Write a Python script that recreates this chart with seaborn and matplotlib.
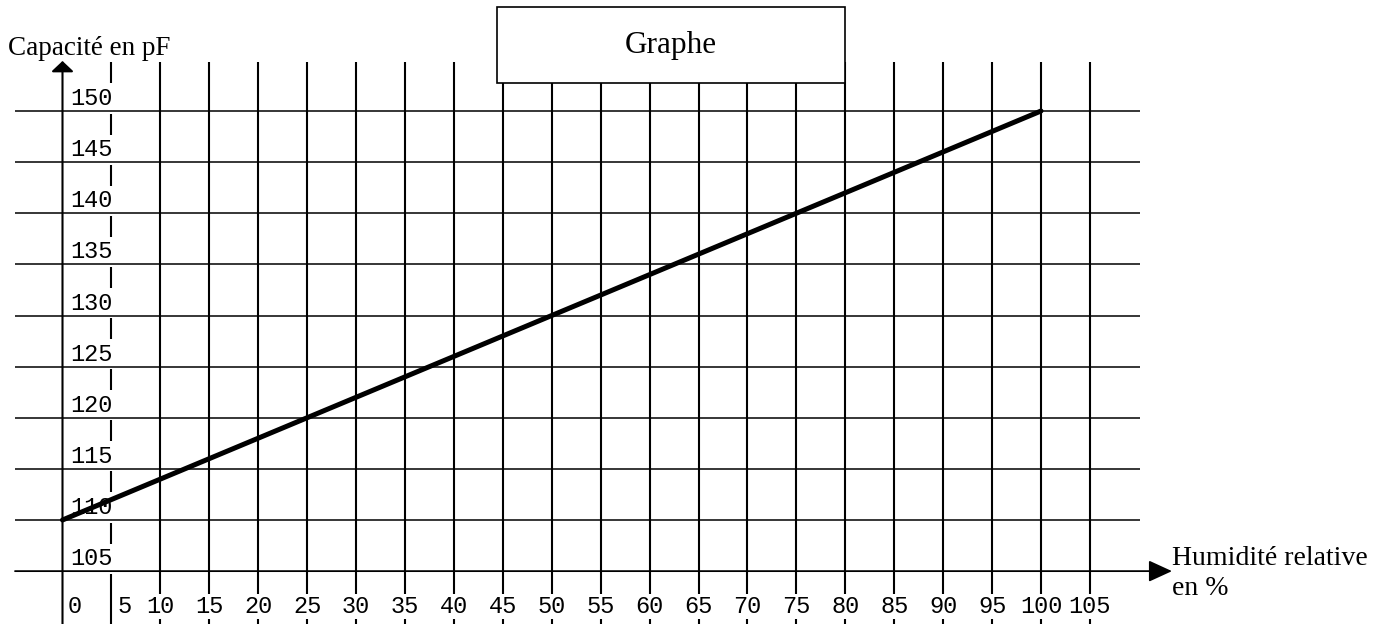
import matplotlib
matplotlib.use("Agg")
import matplotlib.pyplot as plt
import seaborn as sns
import pandas as pd
import numpy as np
from matplotlib.patches import Rectangle

# ---- data ----
humidite = [0, 25, 50, 75, 100]
capacite = [110, 120, 130, 140, 150]
x_ticks = list(range(0, 110, 5))          # 0 .. 105
y_ticks = list(range(105, 155, 5))        # 105 .. 150
title = "Graphe"
ylabel = "Capacité en pF"
xlabel_lines = ["Humidité relative", "en %"]

sns.set_theme(style="white")
plt.rcParams['font.family'] = ['DejaVu Sans']
plt.rcParams['text.color'] = 'black'

W, H = 1376, 624
fig = plt.figure(figsize=(W / 100, H / 100), dpi=100)
ax = fig.add_axes([0, 0, 1, 1])
ax.set_axis_off()

# pixel <-> data mapping of the reference
x0px, xs = 62.5, 9.785
y0px, ys = 520.0, 10.225
def px2x(p): return (p - x0px) / xs
def px2y(p): return 110 + (y0px - p) / ys

ax.set_xlim(px2x(0), px2x(W))
ax.set_ylim(px2y(H), px2y(0))

y_top = px2y(62)
y_bot = px2y(H)
x_left = px2x(15)
x_right = px2x(1140)

# vertical grid lines
ax.vlines([v for v in x_ticks if v != 0], y_bot, y_top, colors="black", lw=1.5, zorder=1)
# horizontal grid lines
ax.hlines([v for v in y_ticks if v != 105], x_left, x_right, colors="black", lw=1.1, zorder=3)

# axes with arrows
ax.annotate("", xy=(px2x(1172), 105), xytext=(x_left, 105),
            arrowprops=dict(arrowstyle="-|>,head_length=0.72,head_width=0.33",
                            mutation_scale=20, lw=1.3, color="black",
                            shrinkA=0, shrinkB=0), zorder=3)
ax.annotate("", xy=(0, px2y(61)), xytext=(0, y_bot),
            arrowprops=dict(arrowstyle="-|>,head_length=0.32,head_width=0.34",
                            mutation_scale=20, lw=1.5, color="black",
                            shrinkA=0, shrinkB=0), zorder=3)

# curve
df = pd.DataFrame({"h": humidite, "c": capacite})
sns.lineplot(data=df, x="h", y="c", ax=ax, color="black", lw=3.6, zorder=5)
ax.set_xlabel("")
ax.set_ylabel("")

mono = "Liberation Mono"
serif = "Liberation Serif"
bb = dict(boxstyle="square,pad=0.15", fc="white", ec="none")

# y labels (above their line, right of y axis)
for v in y_ticks:
    ax.text(px2x(70), v + 6 / ys, str(v), family=mono, fontsize=17, color="black",
            ha="left", va="baseline", bbox=bb, zorder=2)

# x labels
for v in x_ticks:
    if v == 0:
        ax.text(px2x(68), px2y(613), str(v), family=mono, fontsize=17, color="black",
                ha="left", va="baseline", zorder=2)
    elif v == 5:
        ax.text(px2x(117), px2y(613), str(v), family=mono, fontsize=17, color="black",
                ha="left", va="baseline", zorder=2)
    else:
        ax.text(v, px2y(613), str(v), family=mono, fontsize=17, color="black",
                ha="center", va="baseline",
                bbox=dict(boxstyle="square,pad=0.05", fc="white", ec="none"), zorder=2)

# title box
ax.add_patch(Rectangle((497 / W, 1 - 83 / H), 348 / W, 76 / H, transform=ax.transAxes,
                       fc="white", ec="black", lw=1.2, zorder=6))
ax.text((497 + 845) / 2 / W, 1 - 53 / H, title, transform=ax.transAxes, color="black",
        family=serif, fontsize=22.5, ha="center", va="baseline", zorder=7)

# axis titles
ax.text(8 / W, 1 - 55 / H, ylabel, transform=ax.transAxes, family=serif, color="black",
        fontsize=19.5, ha="left", va="baseline", zorder=7)
ax.text(1172 / W, 1 - 565 / H, xlabel_lines[0], transform=ax.transAxes, family=serif,
        color="black", fontsize=20, ha="left", va="baseline", zorder=7)
ax.text(1172 / W, 1 - 595 / H, xlabel_lines[1], transform=ax.transAxes, family=serif,
        color="black", fontsize=20, ha="left", va="baseline", zorder=7)

fig.savefig("out.png", dpi=100, facecolor="white")
